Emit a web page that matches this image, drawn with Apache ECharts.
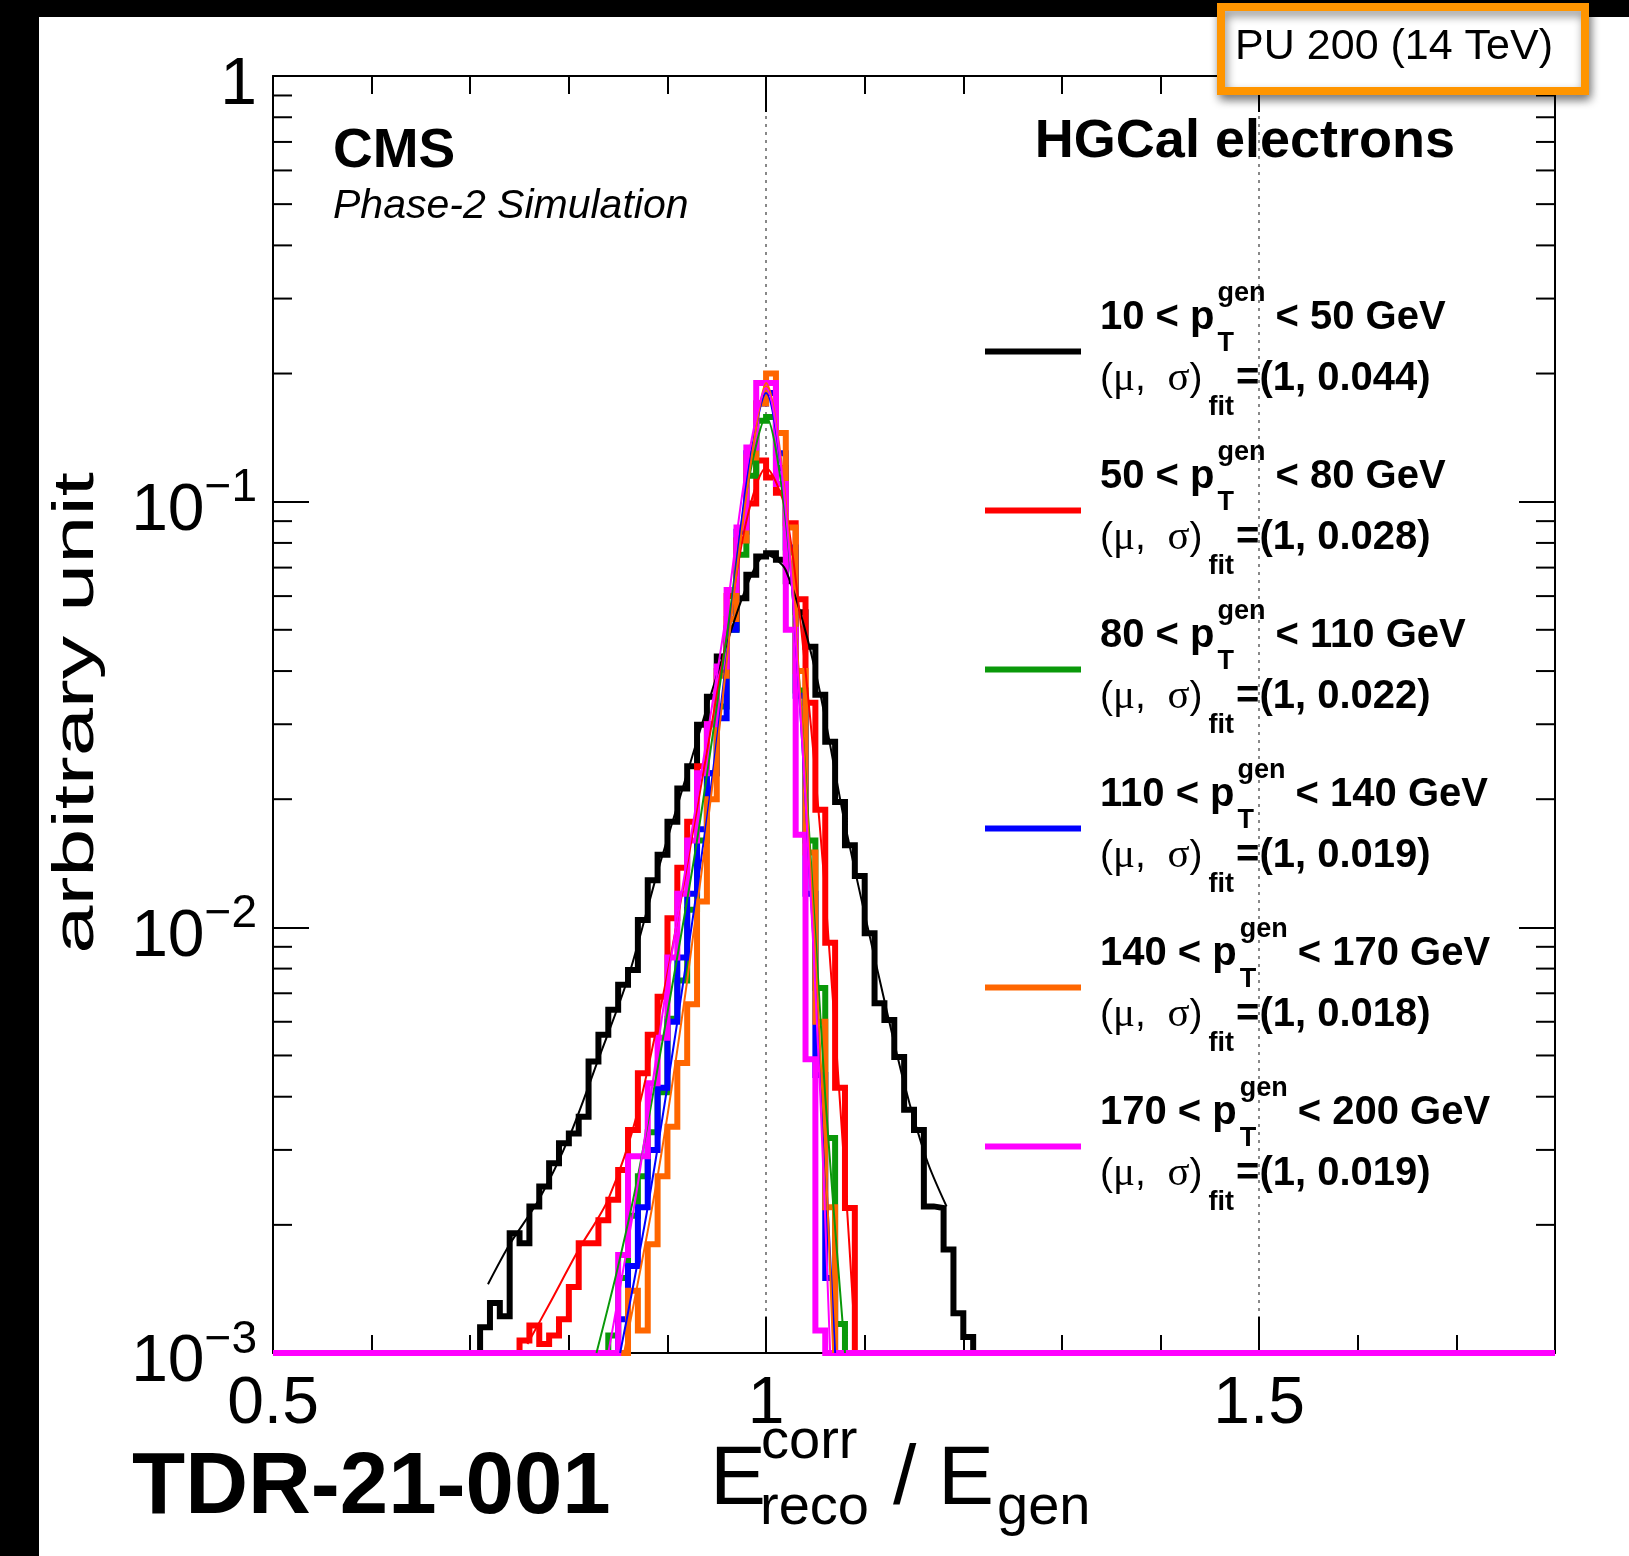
<!DOCTYPE html>
<html>
<head>
<meta charset="utf-8">
<script src="https://cdn.jsdelivr.net/npm/echarts@6.0.0/dist/echarts.min.js"></script>
<style>
  html, body { margin: 0; padding: 0; background: #fff; }
  #chart { width: 1629px; height: 1556px; }
</style>
</head>
<body>
<div id="chart"></div>
<script>
// axis ranges
var xMin = 0.5, xMax = 1.8;
var yMin = 0.001, yMax = 1;
var binWidth = 0.01;

// histogram contents (bin contents from the first non-empty bin on)
var blackStart = 0.71;
var blackVals = [1.15e-3, 1.31e-3, 1.22e-3, 1.91e-3, 1.81e-3, 2.21e-3, 2.46e-3, 2.79e-3, 3.11e-3, 3.28e-3,
                 3.59e-3, 4.84e-3, 5.59e-3, 6.40e-3, 7.33e-3, 7.94e-3, 1.04e-2, 1.29e-2, 1.48e-2, 1.77e-2,
                 2.12e-2, 2.39e-2, 2.99e-2, 3.48e-2, 4.33e-2, 5.04e-2, 5.93e-2, 6.73e-2, 7.43e-2, 7.57e-2,
                 7.30e-2, 6.50e-2, 5.50e-2, 4.56e-2, 3.52e-2, 2.73e-2, 1.97e-2, 1.56e-2, 1.32e-2, 9.69e-3,
                 6.63e-3, 6.06e-3, 4.96e-3, 3.73e-3, 3.34e-3, 2.21e-3, 2.19e-3, 1.75e-3, 1.24e-3, 1.09e-3];
var redStart = 0.75;
var redVals = [1.07e-3, 1.16e-3, 1.05e-3, 1.10e-3, 1.20e-3, 1.43e-3, 1.81e-3, 1.81e-3, 2.05e-3, 2.29e-3,
               2.69e-3, 3.34e-3, 4.54e-3, 5.59e-3, 6.87e-3, 1.05e-2, 1.38e-2, 1.77e-2, 2.39e-2, 3.0e-2,
               4.0e-2, 6.0e-2, 8.1e-2, 9.9e-2, 0.125, 0.114, 0.105, 8.9e-2, 5.9e-2, 3.37e-2,
               1.89e-2, 9.2e-3, 4.2e-3, 2.19e-3];
var greenStart = 0.84;
var greenVals = [1.1e-3, 1.5e-3, 2.1e-3, 2.6e-3, 3.3e-3, 4.1e-3, 6.1e-3, 7.5e-3, 1.1e-2, 1.6e-2,
                 2.3e-2, 3.3e-2, 5.0e-2, 7.5e-2, 0.115, 0.155, 0.158, 0.12, 7.6e-2, 3.6e-2,
                 1.6e-2, 7.2e-3, 3.2e-3, 1.17e-3];
var blueStart = 0.85;
var blueVals = [1.2e-3, 1.6e-3, 2.2e-3, 3.0e-3, 4.2e-3, 6.0e-3, 8.5e-3, 1.2e-2, 1.7e-2, 2.3e-2,
                3.1e-2, 5.0e-2, 8.5e-2, 0.13, 0.17, 0.18, 0.13, 7.8e-2, 3.5e-2, 1.2e-2,
                4.5e-3, 1.5e-3];
var orangeStart = 0.86;
var orangeVals = [1.4e-3, 1.13e-3, 1.8e-3, 2.6e-3, 3.4e-3, 4.8e-3, 6.6e-3, 1.15e-2, 2.0e-2, 3.9e-2,
                  5.3e-2, 8.1e-2, 0.127, 0.17, 0.20, 0.145, 8.7e-2, 4.0e-2, 1.5e-2, 6.0e-3,
                  2.2e-3];
var magentaStart = 0.85;
var magentaVals = [1.7e-3, 2.9e-3, 2.9e-3, 4.3e-3, 5.5e-3, 8.5e-3, 1.2e-2, 1.6e-2, 2.3e-2, 3.0e-2,
                   4.1e-2, 6.2e-2, 8.7e-2, 0.134, 0.19, 0.19, 0.11, 5.0e-2, 1.65e-2, 4.9e-3,
                   1.13e-3];

// fitted curves as [x, y]
var blackFit = [[0.718, 1.45e-3], [0.74, 1.8e-3], [0.77, 2.3e-3], [0.80, 3.2e-3], [0.83, 4.9e-3],
                [0.86, 7.6e-3], [0.89, 1.35e-2], [0.92, 2.3e-2], [0.95, 3.9e-2], [0.98, 6.3e-2],
                [1.00, 7.5e-2], [1.02, 6.9e-2], [1.05, 4.0e-2], [1.08, 1.75e-2], [1.11, 8.5e-3],
                [1.14, 4.3e-3], [1.163, 2.84e-3], [1.183, 2.21e-3]];
var redFit = [[0.758, 1.05e-3], [0.78, 1.3e-3], [0.81, 1.75e-3], [0.84, 2.3e-3], [0.87, 3.7e-3],
              [0.90, 7.8e-3], [0.93, 1.9e-2], [0.96, 4.8e-2], [0.98, 9.0e-2], [1.00, 0.12],
              [1.02, 9.5e-2], [1.04, 4.0e-2], [1.06, 1.2e-2], [1.08, 2.6e-3], [1.09, 1.1e-3]];
var greenFit = [[0.828, 1.0e-3], [0.85, 1.6e-3], [0.87, 2.6e-3], [0.90, 6.3e-3], [0.93, 1.6e-2],
                [0.96, 4.8e-2], [0.98, 0.105], [1.00, 0.158], [1.02, 9.0e-2], [1.04, 2.3e-2],
                [1.06, 4.0e-3], [1.08, 1.0e-3]];
var blueFit = [[0.852, 1.0e-3], [0.88, 2.2e-3], [0.91, 6.0e-3], [0.94, 1.8e-2], [0.96, 4.3e-2],
               [0.98, 0.11], [1.00, 0.18], [1.02, 9.5e-2], [1.04, 2.0e-2], [1.06, 2.8e-3], [1.07, 1.0e-3]];
var orangeFit = [[0.856, 1.0e-3], [0.89, 2.6e-3], [0.92, 7.5e-3], [0.95, 2.6e-2], [0.97, 6.8e-2],
                 [0.99, 0.15], [1.00, 0.19], [1.02, 0.10], [1.04, 2.2e-2], [1.06, 3.0e-3], [1.068, 1.0e-3]];
var magentaFit = [[0.84, 1.0e-3], [0.87, 2.5e-3], [0.90, 7.5e-3], [0.93, 2.0e-2], [0.96, 5.5e-2],
                  [0.98, 0.12], [1.00, 0.185], [1.02, 9.5e-2], [1.04, 2.0e-2], [1.055, 4.0e-3], [1.065, 1.0e-3]];

// legend texts
var ptLow = ['10', '50', '80', '110', '140', '170'];
var ptHigh = ['50', '80', '110', '140', '170', '200'];
var fitSigma = ['0.044', '0.028', '0.022', '0.019', '0.018', '0.019'];

// axis tick values
var xLabelValues = [0.5, 1, 1.5];
var minorMantissas = [2, 3, 4, 5, 6, 7, 8, 9];
var decades = [0.001, 0.01, 0.1];

var colors = ['#000000', '#ff0000', '#0a990a', '#0000ff', '#ff6600', '#ff00ff'];
var FONT = '"Liberation Sans", Arial, Helvetica, sans-serif';
var SERIF = '"Liberation Serif", "Times New Roman", serif';

var hists = [
  [blackStart, blackVals], [redStart, redVals], [greenStart, greenVals],
  [blueStart, blueVals], [orangeStart, orangeVals], [magentaStart, magentaVals]
];
var fits = [blackFit, redFit, greenFit, blueFit, orangeFit, magentaFit];

// full histogram from xMin to xMax, empty bins sit on the axis floor
function histPoints(start, vals) {
  var nBins = Math.round((xMax - xMin) / binWidth);
  var first = Math.round((start - xMin) / binWidth);
  var pts = [];
  for (var i = 0; i < nBins; i++) {
    var j = i - first;
    var v = (j >= 0 && j < vals.length) ? vals[j] : 0;
    pts.push([+(xMin + i * binWidth).toFixed(3), Math.max(v, yMin)]);
  }
  pts.push([xMax, pts[pts.length - 1][1]]);
  return pts;
}

var minorY = [];
decades.forEach(function (d) {
  minorMantissas.forEach(function (m) { minorY.push([xMin, +(m * d).toPrecision(3)]); });
});

var series = [];
hists.forEach(function (h, i) {
  series.push({
    type: 'line', step: 'end', showSymbol: false, symbol: 'none', clip: false,
    data: histPoints(h[0], h[1]), z: 2 + i, silent: true,
    lineStyle: { color: colors[i], width: 6, join: 'miter', cap: 'butt' }
  });
});
fits.forEach(function (f, i) {
  series.push({
    type: 'line', smooth: 0.3, showSymbol: false, symbol: 'none', clip: false,
    data: f, z: 10 + i, silent: true,
    lineStyle: { color: colors[i], width: 2 }
  });
});
// minor ticks of the log axis (2..9 x 10^n) on both sides of the frame
series.push({
  type: 'custom', coordinateSystem: 'cartesian2d', clip: false, silent: true, z: 20,
  data: minorY,
  renderItem: function (params, api) {
    var v = api.value(1);
    var pl = api.coord([xMin, v]);
    var pr = api.coord([xMax, v]);
    return {
      type: 'group',
      children: [
        { type: 'line', shape: { x1: pl[0], y1: pl[1], x2: pl[0] + 19, y2: pl[1] }, style: { stroke: '#000', lineWidth: 2 } },
        { type: 'line', shape: { x1: pr[0], y1: pr[1], x2: pr[0] - 19, y2: pr[1] }, style: { stroke: '#000', lineWidth: 2 } }
      ]
    };
  }
});

// text helpers
var mctx = document.createElement('canvas').getContext('2d');
function textW(s, font) { mctx.font = font; return mctx.measureText(s).width; }

function txt(s, x, base, size, o) {
  o = o || {};
  return {
    type: 'text', x: x, y: base - 0.35 * size, z: 100,
    rotation: o.rotation || 0, scaleX: o.scaleX || 1,
    style: {
      text: s, fill: '#000', fontFamily: o.family || FONT, fontSize: size,
      fontWeight: o.weight || 'normal', fontStyle: o.style || 'normal',
      align: o.align || 'left', textAlign: o.align || 'left',
      verticalAlign: 'middle', textVerticalAlign: 'middle',
      rich: o.rich
    }
  };
}

var yTitle = txt('arbitrary unit', 0, 0, 57, { align: 'center', rotation: Math.PI / 2, scaleX: 1.52 });
yTitle.x = 77;
yTitle.y = 713;

var graphics = [
  { type: 'rect', shape: { x: 0, y: 0, width: 39, height: 1556 }, style: { fill: '#000' }, z: 90 },
  { type: 'rect', shape: { x: 0, y: 0, width: 1629, height: 17 }, style: { fill: '#000' }, z: 90 },
  { type: 'rect', shape: { x: 1221, y: 7, width: 364, height: 84 }, z: 95,
    style: { fill: '#fff', stroke: '#ff9500', lineWidth: 8, shadowBlur: 10, shadowColor: 'rgba(0,0,0,0.45)', shadowOffsetX: 2, shadowOffsetY: 5 } },
  txt('PU 200 (14 TeV)', 1553, 62, 43, { align: 'right' }),
  txt('CMS', 333, 171, 55, { weight: 'bold' }),
  txt('Phase-2 Simulation', 333, 221, 41, { style: 'italic' }),
  txt('HGCal electrons', 1455, 161, 54, { weight: 'bold', align: 'right' }),
  txt('TDR-21-001', 132, 1519, 87, { weight: 'bold' }),
  // x-axis title
  txt('E', 710, 1510, 84),
  txt('corr', 761, 1462, 56),
  txt('reco', 760, 1528, 56),
  txt('/', 893, 1510, 84),
  txt('E', 938, 1510, 84),
  txt('gen', 997, 1528, 56),
  yTitle
];

// legend
var bold40 = 'bold 40px ' + FONT;
var bold27 = 'bold 27px ' + FONT;
for (var k = 0; k < 6; k++) {
  var y0 = 351.5 + k * 159;
  var x0 = 1100;
  var pre = ptLow[k] + ' < p';
  var wPre = textW(pre, bold40);
  var xs = x0 + wPre + 3;
  var wGen = textW('gen', bold27);
  graphics.push({ type: 'line', z: 100, shape: { x1: 985, y1: y0, x2: 1081, y2: y0 }, style: { stroke: colors[k], lineWidth: 6 } });
  graphics.push(txt(pre, x0, y0 - 20, 40, { weight: 'bold' }));
  graphics.push(txt('T', xs, y0 + 1, 27, { weight: 'bold' }));
  graphics.push(txt('gen', xs, y0 - 49, 27, { weight: 'bold' }));
  graphics.push(txt('< ' + ptHigh[k] + ' GeV', xs + wGen + 10, y0 - 20, 40, { weight: 'bold' }));
  var wMs = textW('(', '39px ' + FONT) + textW('μ', '41px ' + SERIF) + textW(',  ', '39px ' + FONT) +
            textW('σ', '41px ' + SERIF) + textW(')', '39px ' + FONT);
  graphics.push(txt('{p|(}{g|μ}{p|,  }{g|σ}{p|)}', x0, y0 + 41, 39, {
    rich: { p: { fontFamily: FONT, fontSize: 39, fill: '#000' }, g: { fontFamily: SERIF, fontSize: 41, fill: '#000' } }
  }));
  var wFit = textW('fit', bold27);
  graphics.push(txt('fit', x0 + wMs + 6, y0 + 65, 27, { weight: 'bold' }));
  graphics.push(txt('=(1, ' + fitSigma[k] + ')', x0 + wMs + 8 + wFit, y0 + 41, 40, { weight: 'bold' }));
}

var axisLineStyle = { show: true, onZero: false, lineStyle: { color: '#000', width: 2 } };
function xAxisBase(pos, interval, tickLen, showLine) {
  return {
    type: 'value', position: pos, min: xMin, max: xMax, interval: interval,
    axisLine: showLine ? axisLineStyle : { show: false, onZero: false },
    axisTick: { show: true, inside: true, length: tickLen, lineStyle: { color: '#000', width: 2 } },
    axisLabel: { show: false },
    splitLine: { show: false }
  };
}
var xBottom = xAxisBase('bottom', 0.1, 18, true);
xBottom.axisLabel = {
  show: true, margin: 19, color: '#000', fontFamily: FONT, fontSize: 66,
  formatter: function (v) {
    var r = Math.round(v * 10) / 10;
    return xLabelValues.indexOf(r) >= 0 ? String(r) : '';
  }
};
var xTop = xAxisBase('top', 0.1, 18, true);
var xBottomMajor = xAxisBase('bottom', 0.5, 36, false);
xBottomMajor.splitLine = { show: true, lineStyle: { color: '#888', width: 2, type: [3, 5] } };
var xTopMajor = xAxisBase('top', 0.5, 36, false);

function yAxisBase(pos) {
  return {
    type: 'log', logBase: 10, position: pos, min: yMin, max: yMax,
    axisLine: axisLineStyle,
    axisTick: { show: true, inside: true, length: 36, lineStyle: { color: '#000', width: 2 } },
    axisLabel: { show: false },
    splitLine: { show: false },
    minorTick: { show: false }
  };
}
var yLeft = yAxisBase('left');
yLeft.axisLabel = {
  show: true, margin: 16, padding: [20, 0, 0, 0],
  formatter: function (v) {
    var e = Math.round(Math.log(v) / Math.LN10);
    if (e === 0) return '{n|1}';
    return '{n|10}{s|\u2212' + (-e) + '}';
  },
  rich: {
    n: { fontFamily: FONT, fontSize: 66, lineHeight: 92, color: '#000' },
    s: { fontFamily: FONT, fontSize: 46, lineHeight: 20, color: '#000', verticalAlign: 'top' }
  }
};
var yRight = yAxisBase('right');

var chart = echarts.init(document.getElementById('chart'));
chart.setOption({
  animation: false,
  backgroundColor: '#fff',
  grid: { left: 273, right: 74, top: 76, bottom: 203, containLabel: false, outerBoundsMode: 'none' },
  xAxis: [xBottom, xTop, xBottomMajor, xTopMajor],
  yAxis: [yLeft, yRight],
  series: series,
  graphic: { elements: graphics }
});
</script>
</body>
</html>
